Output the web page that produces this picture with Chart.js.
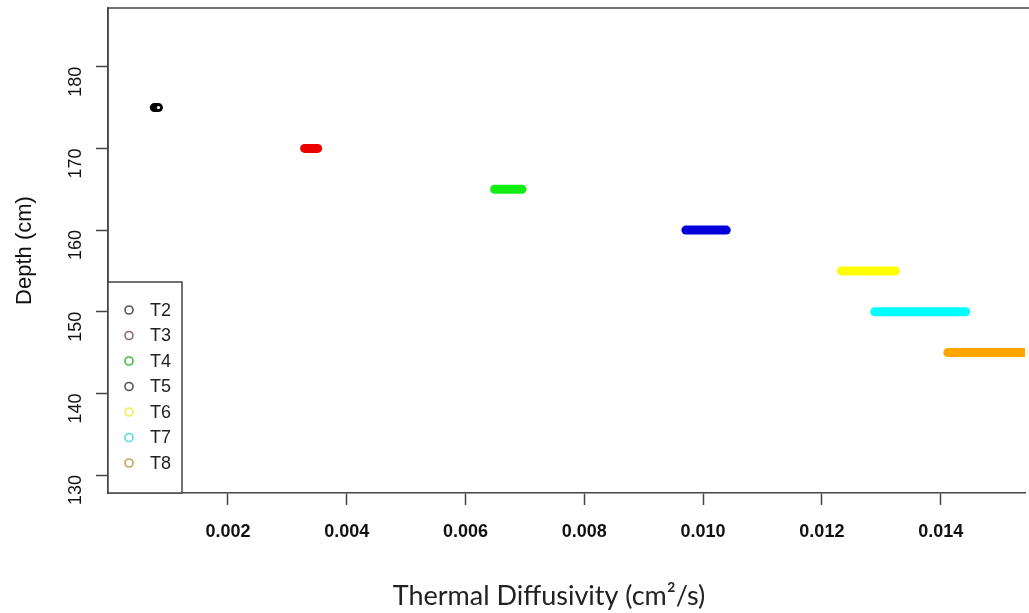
<!DOCTYPE html>
<html>
<head>
<meta charset="utf-8">
<script src="https://cdn.jsdelivr.net/npm/chart.js@4.4.0/dist/chart.umd.min.js"></script>
<style>
  html, body { margin: 0; padding: 0; background: #fff; }
  #wrap { width: 1029px; height: 613px; }
</style>
</head>
<body>
<div id="wrap"><canvas id="diffusivity"></canvas></div>
<script>
// sensor series: depth and the range of thermal diffusivity found there
var sensors = ["T2", "T3", "T4", "T5", "T6", "T7", "T8"];
var depths = [175, 170, 165, 160, 155, 150, 145];
var diffMin = [0.00076, 0.00329, 0.00649, 0.00971, 0.01233, 0.01289, 0.01412];
var diffMax = [0.00083, 0.00351, 0.00695, 0.01039, 0.01324, 0.01442, 0.0156];
var lineColors = ["#000000", "#ee0000", "#11ee11", "#0000dd", "#ffff00", "#00ffff", "#ffa500"];
var legendColors = ["#555555", "#8b6b6b", "#44bb44", "#555555", "#eeee55", "#55dddd", "#c8a050"];
var xTicks = [0.002, 0.004, 0.006, 0.008, 0.010, 0.012, 0.014];
var yTicks = [130, 140, 150, 160, 170, 180];
var xTitle = "Thermal Diffusivity (cm\u00b2/s)";

var datasets = [];
for (var i = 0; i < sensors.length; i++) {
    var ring = sensors[i] == "T2";
    datasets.push({
        label: sensors[i],
        data: [{x: diffMin[i], y: depths[i]}, {x: diffMax[i], y: depths[i]}],
        showLine: true,
        borderColor: lineColors[i],
        backgroundColor: "#ffffff",
        borderWidth: 9,
        borderCapStyle: "round",
        // the T2 mark is a small ring, so punch a hole in it
        pointRadius: ring ? [0, 1.6] : 0,
        pointBorderWidth: 0
    });
}

// R style frame, boxed legend in the lower left corner, x title
var rFrame = {
    id: "rFrame",
    afterDraw: function(chart) {
        var c = chart.ctx, a = chart.chartArea;
        c.save();
        c.strokeStyle = "#444";
        c.lineWidth = 1.5;
        c.beginPath();
        c.moveTo(a.left, a.bottom);
        c.lineTo(a.left, a.top);
        c.lineTo(chart.width, a.top);
        c.stroke();

        var bx = a.left, by = 282, bw = 74, bh = a.bottom - by;
        c.fillStyle = "#fff";
        c.fillRect(bx, by, bw, bh);
        c.strokeRect(bx, by, bw, bh);
        c.font = "18px Liberation Sans, Arial, sans-serif";
        c.textBaseline = "middle";
        for (var i = 0; i < sensors.length; i++) {
            var yy = 310 + i * 25.5;
            c.beginPath();
            c.arc(bx + 21, yy, 4, 0, Math.PI * 2);
            c.lineWidth = 1.6;
            c.strokeStyle = legendColors[i];
            c.stroke();
            c.fillStyle = "#222";
            c.fillText(sensors[i], bx + 42, yy + 1);
        }

        c.font = "27px Lato, sans-serif";
        c.fillStyle = "#222";
        c.textAlign = "center";
        c.fillText(xTitle, 549, 596);
        c.restore();
    }
};

var ctx = document.getElementById("diffusivity");
new Chart(ctx, {
    type: "scatter",
    data: { datasets: datasets },
    options: {
        responsive: true,
        maintainAspectRatio: false,
        animation: false,
        layout: { padding: { top: 8, right: 0, left: 0, bottom: 0 } },
        plugins: { legend: { display: false }, tooltip: { enabled: false } },
        scales: {
            x: {
                type: "linear",
                min: -0.00002,
                max: 0.01542,
                afterBuildTicks: function(s) { s.ticks = xTicks.map(function(v) { return {value: v}; }); },
                afterFit: function(s) { s.height = 120; s.paddingLeft = 0; s.paddingRight = 0; },
                border: { color: "#444", width: 1.5 },
                grid: { drawOnChartArea: false, tickLength: 12, color: "#444", tickWidth: 1.5 },
                ticks: {
                    padding: 16,
                    color: "#111",
                    font: { family: "Liberation Sans, Arial, sans-serif", size: 18, weight: "bold" },
                    callback: function(v) { return v.toFixed(3); }
                }
            },
            y: {
                type: "linear",
                min: 127.8,
                max: 187.2,
                afterBuildTicks: function(s) { s.ticks = yTicks.map(function(v) { return {value: v}; }); },
                afterFit: function(s) { s.width = 108; s.paddingTop = 0; s.paddingBottom = 0; },
                border: { color: "#444", width: 1.5 },
                grid: { drawOnChartArea: false, tickLength: 12, color: "#444", tickWidth: 1.5 },
                ticks: {
                    padding: 20,
                    minRotation: 90,
                    maxRotation: 90,
                    color: "#111",
                    font: { family: "Liberation Sans, Arial, sans-serif", size: 18 }
                },
                title: {
                    display: true,
                    text: "Depth (cm)",
                    color: "#111",
                    font: { family: "Liberation Sans, Arial, sans-serif", size: 22 },
                    padding: { top: 12, bottom: 0 }
                }
            }
        }
    },
    plugins: [rFrame]
});
</script>
</body>
</html>
